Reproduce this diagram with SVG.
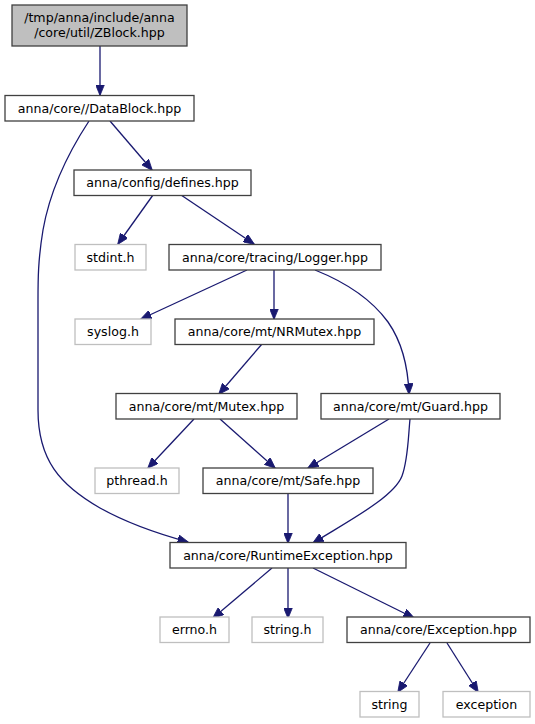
<svg xmlns="http://www.w3.org/2000/svg" width="535" height="724" viewBox="0 0 535 724">
<style>
.n rect{fill:#ffffff;stroke:#404040;stroke-width:1.3}
.x rect{fill:#ffffff;stroke:#bfbfbf;stroke-width:1.3}
.r rect{fill:#bfbfbf;stroke:#404040;stroke-width:1.3}
text{font-family:"DejaVu Sans",sans-serif;font-size:12.6px;fill:#000000;text-anchor:middle}
#edges path{fill:none;stroke:#191970;stroke-width:1.3;marker-end:url(#ah)}
</style>
<defs>
<marker id="ah" markerUnits="userSpaceOnUse" viewBox="0 0 11 9" refX="10.5" refY="4.5" markerWidth="11" markerHeight="9" orient="auto">
<path d="M0,0 L11,4.5 L0,9 Z" fill="#191970" stroke="#191970" stroke-width="0.8"/>
</marker>
</defs>
<rect width="535" height="724" fill="#ffffff"/>
<g id="edges">
<path d="M100,46 L100,95"/>
<path d="M110,121 L152,170"/>
<path d="M89,121 C70,150 50,190 43,230 C38,260 38,280 38,300 L38,410 C38,460 60,485 100,508 C125,522 155,533 188,542"/>
<path d="M153,195 L118,244"/>
<path d="M181,195 L254,244"/>
<path d="M247,270 L141,319"/>
<path d="M274,270 L274,319"/>
<path d="M315,270 C345,282 372,300 388,322 C402,342 408,365 409,394"/>
<path d="M262,344 L219,394"/>
<path d="M194,419 L148,468"/>
<path d="M220,419 L275,468"/>
<path d="M389,419 L308,468"/>
<path d="M288,494 L288,543"/>
<path d="M410,419 C408,440 408,460 402,476 C394,497 350,520 313,543"/>
<path d="M272,568 L213,618"/>
<path d="M288,568 L288,618"/>
<path d="M313,568 L414,618"/>
<path d="M430,643 L398,692"/>
<path d="M447,643 L478,692"/>
</g>
<g id="zblock" class="r"><rect x="12" y="5" width="175" height="41"/><text x="99.5" y="21.5">/tmp/anna/include/anna</text><text x="99.5" y="36.5">/core/util/ZBlock.hpp</text></g>
<g id="datablock" class="n"><rect x="5" y="95.5" width="189" height="25.5"/><text x="99.5" y="112.5">anna/core//DataBlock.hpp</text></g>
<g id="defines" class="n"><rect x="74" y="170" width="177" height="25.5"/><text x="162.5" y="187">anna/config/defines.hpp</text></g>
<g id="stdint" class="x"><rect x="75" y="244.5" width="71" height="25.5"/><text x="110.5" y="261.5">stdint.h</text></g>
<g id="logger" class="n"><rect x="169" y="244.5" width="212" height="25.5"/><text x="275" y="261.5">anna/core/tracing/Logger.hpp</text></g>
<g id="syslog" class="x"><rect x="75" y="319" width="76" height="25.5"/><text x="113" y="336">syslog.h</text></g>
<g id="nrmutex" class="n"><rect x="175" y="319" width="199" height="25.5"/><text x="274.5" y="336">anna/core/mt/NRMutex.hpp</text></g>
<g id="mutex" class="n"><rect x="116" y="393.5" width="181" height="25.5"/><text x="206.5" y="410.5">anna/core/mt/Mutex.hpp</text></g>
<g id="guard" class="n"><rect x="321" y="393.5" width="179" height="25.5"/><text x="410.5" y="410.5">anna/core/mt/Guard.hpp</text></g>
<g id="pthread" class="x"><rect x="95" y="468" width="84" height="25.5"/><text x="137" y="485">pthread.h</text></g>
<g id="safe" class="n"><rect x="203" y="468" width="170" height="25.5"/><text x="288" y="485">anna/core/mt/Safe.hpp</text></g>
<g id="runtimeexception" class="n"><rect x="170" y="542.5" width="236" height="25.5"/><text x="288" y="559.5">anna/core/RuntimeException.hpp</text></g>
<g id="errno" class="x"><rect x="160" y="617" width="69" height="25.5"/><text x="194.5" y="634">errno.h</text></g>
<g id="stringh" class="x"><rect x="252" y="617" width="71" height="25.5"/><text x="287.5" y="634">string.h</text></g>
<g id="exception_hpp" class="n"><rect x="347" y="617" width="183" height="25.5"/><text x="438.5" y="634">anna/core/Exception.hpp</text></g>
<g id="string" class="x"><rect x="360" y="691.5" width="59" height="25.5"/><text x="389.5" y="708.5">string</text></g>
<g id="exception" class="x"><rect x="443" y="691.5" width="87" height="25.5"/><text x="486.5" y="708.5">exception</text></g>
</svg>
